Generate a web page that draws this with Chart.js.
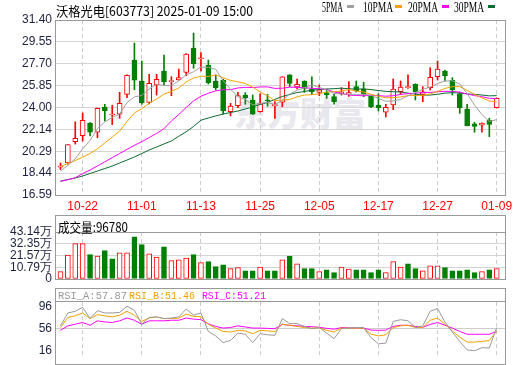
<!DOCTYPE html>
<html>
<head>
<meta charset="utf-8">
<title>沃格光电 603773</title>
<script src="https://cdn.jsdelivr.net/npm/chart.js@4.4.1/dist/chart.umd.min.js"></script>
<style>
  html, body { margin: 0; padding: 0; background: #fff; }
  #stage { position: relative; width: 520px; height: 365px; overflow: hidden; }
  #stage canvas { position: absolute; left: 0; top: 0; z-index: 1; }
  .frame { position: absolute; box-sizing: border-box; border: 1px solid #999; z-index: 2; }
  .sep { position: absolute; left: 0; right: 0; box-sizing: border-box; border-bottom: 1px solid #999; }
  .label { position: absolute; white-space: nowrap; line-height: 1; z-index: 3; transform-origin: 0 50%; }
  .swatch { position: absolute; z-index: 3; height: 3px; width: 7px; }
  #watermark {
    position: absolute; left: 234px; top: 88px; z-index: 0;
    font: 900 33px "Noto Sans CJK SC", sans-serif; color: #e8e8ee; white-space: nowrap;
  }
</style>
</head>
<body>
<div id="stage">
  <div id="watermark">东方财富</div>

  <canvas id="priceChart" width="520" height="365"></canvas>
  <canvas id="volChart" width="520" height="365"></canvas>
  <canvas id="rsiChart" width="520" height="365"></canvas>

  <div class="frame" style="left:55px;top:20px;width:451px;height:176px"></div>
  <div class="frame" style="left:55px;top:215px;width:451px;height:65px"><div class="sep" style="top:0;height:17px"></div></div>
  <div class="frame" style="left:55px;top:288px;width:451px;height:77px"><div class="sep" style="top:0;height:13px"></div></div>

  <div class="label" id="title" style="left:56px;top:1px;font:13px 'Noto Sans CJK SC';color:#000">沃格光电[603773] 2025-01-09 15:00</div>

  <div class="label" id="lg5" style="left:322px;top:0px;font:14px 'Liberation Serif';color:#000">5PMA</div>
  <div class="swatch" style="left:347px;top:5px;background:#a0a0a0"></div>
  <div class="label" id="lg10" style="left:363px;top:0px;font:14px 'Liberation Serif';color:#000">10PMA</div>
  <div class="swatch" style="left:395px;top:5px;background:#f5a400"></div>
  <div class="label" id="lg20" style="left:408px;top:0px;font:14px 'Liberation Serif';color:#000">20PMA</div>
  <div class="swatch" style="left:442px;top:5px;background:#ff00ff"></div>
  <div class="label" id="lg30" style="left:454px;top:0px;font:14px 'Liberation Serif';color:#000">30PMA</div>
  <div class="swatch" style="left:488px;top:5px;background:#0b6b32"></div>

  <div class="label" id="volHead" style="left:58px;top:217px;font:13px 'Noto Sans CJK SC';color:#000"></div>

  <div class="label" id="rsiA" style="left:58px;top:290px;font:11px 'Liberation Mono';color:#999"></div>
  <div class="label" id="rsiB" style="left:129px;top:290px;font:11px 'Liberation Mono';color:#f0a000"></div>
  <div class="label" id="rsiC" style="left:202px;top:290px;font:11px 'Liberation Mono';color:#ff00ff"></div>
</div>

<script>
// trading days shown
const dates = [
  "10-17", "10-18", "10-21", "10-22", "10-23", "10-24", "10-25", "10-28", "10-29", "10-30",
  "10-31", "11-01", "11-04", "11-05", "11-06", "11-07", "11-08", "11-11", "11-12", "11-13",
  "11-14", "11-15", "11-18", "11-19", "11-20", "11-21", "11-22", "11-25", "11-26", "11-27",
  "11-28", "11-29", "12-02", "12-03", "12-04", "12-05", "12-06", "12-09", "12-10", "12-11",
  "12-12", "12-13", "12-16", "12-17", "12-18", "12-19", "12-20", "12-23", "12-24", "12-25",
  "12-26", "12-27", "12-30", "12-31", "01-02", "01-03", "01-06", "01-07", "01-08", "01-09",
];
const axisDates = ["10-22", "11-01", "11-13", "11-25", "12-05", "12-17", "12-27", "01-09"];

const opens = [
  18.95, 19.30, 21.10, 21.61, 22.68, 21.90, 24.04, 23.36, 23.42, 25.11,
  28.01, 26.24, 24.43, 25.90, 27.08, 26.18, 26.32, 26.97, 29.03, 28.12,
  27.59, 26.24, 26.32, 23.64, 24.15, 25.05, 24.60, 23.64, 24.65, 24.15,
  24.44, 26.75, 25.73, 26.24, 25.56, 25.28, 25.25, 24.91, 25.16, 25.13,
  25.76, 25.56, 24.97, 24.21, 23.59, 24.21, 25.33, 25.68, 25.96, 25.11,
  25.67, 26.60, 27.08, 26.30, 25.16, 23.87, 22.62, 22.51, 22.91, 23.98,
];
const highs = [
  19.30, 20.86, 22.79, 23.53, 22.72, 23.95, 24.27, 24.18, 25.28, 26.75,
  29.45, 27.93, 26.80, 26.80, 28.44, 26.60, 27.25, 28.55, 30.30, 28.65,
  28.01, 26.75, 26.40, 24.35, 25.28, 25.25, 25.05, 25.16, 25.10, 24.50,
  26.60, 26.78, 26.41, 26.26, 26.58, 25.90, 25.56, 25.11, 25.67, 26.18,
  26.24, 26.13, 25.05, 25.16, 24.27, 26.41, 26.24, 26.75, 26.00, 25.76,
  27.36, 27.93, 27.17, 26.52, 25.30, 24.27, 22.74, 22.70, 23.08, 24.80,
];
const lows = [
  18.75, 19.20, 20.90, 21.16, 21.60, 21.44, 22.85, 22.55, 23.08, 24.82,
  25.50, 24.27, 24.30, 25.05, 25.90, 25.00, 26.30, 26.69, 27.31, 27.10,
  25.98, 25.48, 23.42, 23.28, 23.98, 24.27, 23.40, 23.60, 24.10, 23.08,
  24.06, 25.76, 25.56, 25.28, 25.11, 25.00, 24.77, 24.27, 25.05, 24.94,
  25.30, 24.91, 23.98, 23.70, 23.19, 23.81, 25.10, 25.60, 24.63, 24.49,
  25.48, 26.32, 26.24, 25.05, 23.50, 22.43, 21.90, 21.90, 21.53, 23.95,
];
const closes = [
  18.95, 20.86, 21.39, 22.91, 21.90, 23.93, 23.70, 23.36, 24.35, 26.72,
  26.30, 24.38, 26.04, 26.38, 26.18, 26.20, 26.52, 28.52, 27.70, 28.16,
  26.09, 25.67, 23.70, 24.12, 25.00, 24.82, 23.42, 24.32, 24.55, 24.15,
  26.58, 26.04, 25.96, 25.62, 25.33, 25.48, 25.05, 24.49, 25.33, 25.25,
  25.39, 25.14, 24.06, 23.98, 24.01, 25.56, 25.73, 25.68, 25.33, 25.33,
  26.55, 27.25, 26.69, 25.48, 23.98, 22.45, 22.40, 22.66, 22.57, 24.77,
];

// volume in lots (手)
const volumes = [
  67000, 220000, 324000, 324000, 223000, 211000, 260000, 186000, 241000, 241000,
  388000, 315000, 232000, 202000, 296000, 168000, 177000, 193000, 223000, 150000,
  159000, 113000, 131000, 95000, 104000, 76000, 76000, 110000, 76000, 76000,
  177000, 208000, 140000, 95000, 95000, 67000, 85000, 58000, 110000, 92000,
  85000, 85000, 58000, 85000, 58000, 159000, 110000, 140000, 95000, 76000,
  122000, 122000, 104000, 76000, 76000, 85000, 58000, 67000, 85000, 96780,
];

const ma5 = [
  18.62, 19.10, 19.65, 20.50, 21.20, 22.20, 22.77, 23.16, 23.45, 24.41,
  24.89, 25.02, 25.56, 25.96, 25.86, 25.84, 26.26, 26.76, 27.02, 27.42,
  27.40, 27.23, 26.26, 25.55, 24.92, 24.66, 24.21, 24.34, 24.42, 24.25,
  24.60, 25.13, 25.46, 25.67, 25.91, 25.69, 25.49, 25.19, 25.14, 25.12,
  25.10, 25.12, 25.03, 24.76, 24.52, 24.55, 24.67, 24.99, 25.26, 25.53,
  25.72, 26.03, 26.23, 26.26, 25.99, 25.17, 24.20, 23.39, 22.81, 22.97,
];
const ma10 = [
  19.00, 19.25, 19.50, 19.80, 20.10, 20.50, 21.00, 21.50, 22.00, 22.81,
  23.54, 23.89, 24.36, 24.71, 25.13, 25.36, 25.64, 26.16, 26.49, 26.64,
  26.62, 26.75, 26.51, 26.29, 26.17, 26.03, 25.72, 25.30, 24.99, 24.58,
  24.63, 24.67, 24.90, 25.05, 25.08, 25.15, 25.31, 25.33, 25.40, 25.51,
  25.39, 25.30, 25.11, 24.95, 24.82, 24.83, 24.89, 25.01, 25.01, 25.02,
  25.14, 25.35, 25.61, 25.76, 25.76, 25.45, 25.11, 24.81, 24.54, 24.48,
];
const ma20 = [
  17.75, 17.88, 18.05, 18.40, 18.70, 19.05, 19.40, 19.75, 20.10, 20.45,
  20.80, 21.10, 21.45, 21.80, 22.20, 22.85, 23.40, 24.00, 24.55, 24.95,
  25.20, 25.40, 25.50, 25.50, 25.65, 25.70, 25.68, 25.73, 25.74, 25.61,
  25.63, 25.71, 25.70, 25.67, 25.62, 25.59, 25.51, 25.31, 25.19, 25.05,
  25.01, 24.99, 25.01, 25.00, 24.95, 24.99, 25.10, 25.17, 25.21, 25.27,
  25.27, 25.33, 25.36, 25.36, 25.29, 25.14, 25.00, 24.91, 24.77, 24.75,
];
const ma30 = [
  17.77, 17.90, 18.03, 18.20, 18.41, 18.62, 18.83, 19.04, 19.30, 19.55,
  19.81, 20.10, 20.40, 20.65, 20.91, 21.16, 21.56, 21.94, 22.39, 22.92,
  23.11, 23.28, 23.44, 23.57, 23.70, 23.87, 24.04, 24.25, 24.42, 24.68,
  24.93, 25.10, 25.26, 25.35, 25.46, 25.51, 25.56, 25.59, 25.63, 25.58,
  25.55, 25.57, 25.51, 25.43, 25.36, 25.33, 25.31, 25.21, 25.13, 25.04,
  25.05, 25.11, 25.21, 25.25, 25.22, 25.14, 25.11, 25.05, 24.98, 25.00,
];

const rsiA = [
  61, 84, 87, 94, 74, 88, 84, 84, 85, 96,
  89, 64, 76, 77, 74, 75, 77, 91, 80, 84,
  51, 43, 31, 35, 48, 46, 31, 47, 45, 44,
  74, 65, 65, 60, 56, 58, 48, 38, 56, 57,
  58, 58, 40, 29, 30, 69, 72, 70, 58, 61,
  87, 92, 68, 50, 33, 18, 16.5, 22, 21.5, 57.87,
];
const rsiB = [
  58, 76, 79, 84, 74, 81, 79, 77, 80, 87,
  80, 69, 75, 77, 74, 74, 75, 82, 78, 77,
  64, 57, 51, 50, 53, 52, 47, 53, 52, 51,
  64, 62, 60, 58, 57, 57.5, 53, 50, 57, 57,
  57, 57, 46, 43, 45, 58, 61, 62, 58, 58,
  71, 75, 64, 52, 41, 32, 32, 33, 35, 51.46,
];
const rsiC = [
  53, 61, 64, 67, 62, 70, 68, 67, 70, 75,
  71, 64, 70, 70, 70, 71, 71, 75, 73, 72,
  64.5, 60, 57, 58, 61, 59, 57, 57, 56.5, 56,
  63.6, 62, 61, 60, 59.5, 58.4, 56.5, 55, 58, 57.5,
  57, 57, 53.5, 53, 53.4, 60, 62, 62, 60, 58.4,
  63.6, 67, 62, 57, 51, 46, 46, 46, 46, 51.21,
];

const priceTicks = [16.59, 18.44, 20.29, 22.14, 24.00, 25.85, 27.70, 29.55, 31.40];
const volTicks = [0, 10.79, 21.57, 32.35, 43.14]; // 万手
const rsiTicks = [16, 56, 96];

const RED = "#ff0000";
const GREEN = "#008000";
const TICK_COLOR = "#1e2040";
const GRID_COLOR = "#d4d4d4";

const last = dates.length - 1;
const tickIdx = axisDates.map((d) => dates.indexOf(d));

const candleUp = (i) => closes[i] >= opens[i];
const volUp = (i) =>
  closes[i] > opens[i] || (closes[i] === opens[i] && (i === 0 || closes[i] >= closes[i - 1]));

const points = (arr) => arr.map((v, i) => ({ x: i, y: v }));

function xAxis(showLabels) {
  return {
    type: "linear",
    min: -0.74,
    max: 60.12,
    bounds: "data",
    offset: false,
    afterBuildTicks: (s) => {
      s.ticks = tickIdx.map((v) => ({ value: v }));
    },
    afterFit: (s) => {
      s.height = showLabels ? 20 : 0;
    },
    grid: { color: "#cccccc", drawTicks: false, offset: false },
    border: { display: false, dash: [4, 3] },
    ticks: {
      display: showLabels,
      autoSkip: false,
      maxRotation: 0,
      padding: 4,
      color: RED,
      font: { family: "Liberation Sans", size: 12 },
      callback: (v) => dates[v],
    },
  };
}

function yAxis(min, max, ticks, fmt, gridColor) {
  return {
    min,
    max,
    bounds: "data",
    afterBuildTicks: (s) => {
      s.ticks = ticks.map((v) => ({ value: v }));
    },
    afterFit: (s) => {
      s.width = 55;
    },
    grid: { color: gridColor, drawTicks: false },
    border: { display: false },
    ticks: {
      autoSkip: false,
      padding: 3,
      color: TICK_COLOR,
      font: { family: "Liberation Sans", size: 12 },
      callback: fmt,
    },
  };
}

const baseOptions = (padding) => ({
  responsive: false,
  animation: false,
  events: [],
  devicePixelRatio: 1,
  layout: { padding },
  plugins: { legend: { display: false }, tooltip: { enabled: false } },
});

const lineSet = (arr, color) => ({
  type: "line",
  data: points(arr),
  borderColor: color,
  borderWidth: 1,
  pointRadius: 0,
  tension: 0,
  fill: false,
  order: 0,
});

// price panel
new Chart(document.getElementById("priceChart"), {
  type: "bar",
  data: {
    datasets: [
      {
        data: closes.map((c, i) => ({ x: i, y: [opens[i], c] })),
        backgroundColor: (ctx) => (candleUp(ctx.dataIndex) ? "#ffffff" : GREEN),
        borderColor: (ctx) => (candleUp(ctx.dataIndex) ? RED : GREEN),
        borderWidth: 1,
        borderSkipped: false,
        barThickness: 5,
        minBarLength: 1,
        grouped: false,
        order: 1,
      },
      {
        data: highs.map((h, i) => ({ x: i, y: [lows[i], h] })),
        backgroundColor: (ctx) => (candleUp(ctx.dataIndex) ? RED : GREEN),
        barThickness: 1,
        grouped: false,
        order: 2,
      },
      lineSet(ma5, "#a0a0a0"),
      lineSet(ma10, "#f5a400"),
      lineSet(ma20, "#ff00ff"),
      lineSet(ma30, "#0b6b32"),
    ],
  },
  options: {
    ...baseOptions({ top: 20, right: 15, bottom: 150, left: 0 }),
    scales: {
      x: xAxis(true),
      y: yAxis(16.59, 31.4, priceTicks, (v) => v.toFixed(2), GRID_COLOR),
    },
  },
});

// volume panel
new Chart(document.getElementById("volChart"), {
  type: "bar",
  data: {
    datasets: [
      {
        data: volumes.map((v, i) => ({ x: i, y: v })),
        backgroundColor: (ctx) => (volUp(ctx.dataIndex) ? "#ffffff" : GREEN),
        borderColor: (ctx) => (volUp(ctx.dataIndex) ? RED : GREEN),
        borderWidth: 1,
        borderSkipped: false,
        barThickness: 5,
        grouped: false,
      },
    ],
  },
  options: {
    ...baseOptions({ top: 232, right: 15, bottom: 86, left: 0 }),
    scales: {
      x: xAxis(false),
      y: yAxis(
        0,
        431400,
        volTicks.map((v) => v * 10000),
        (v) => (v === 0 ? "0" : (v / 10000).toFixed(2) + "万"),
        GRID_COLOR
      ),
    },
  },
});

// RSI panel
new Chart(document.getElementById("rsiChart"), {
  type: "line",
  data: {
    datasets: [lineSet(rsiA, "#999999"), lineSet(rsiB, "#f0a000"), lineSet(rsiC, "#ff00ff")],
  },
  options: {
    ...baseOptions({ top: 302, right: 15, bottom: 1, left: 0 }),
    scales: {
      x: xAxis(false),
      y: yAxis(9.3, 103.6, rsiTicks, (v) => String(v), (ctx) =>
        ctx.tick && ctx.tick.value === 56 ? "#cccccc" : "rgba(0,0,0,0)"
      ),
    },
  },
});

// header texts
document.getElementById("volHead").textContent = "成交量:" + volumes[last];
document.getElementById("rsiA").textContent = "RSI_A:" + rsiA[last].toFixed(2);
document.getElementById("rsiB").textContent = "RSI_B:" + rsiB[last].toFixed(2);
document.getElementById("rsiC").textContent = "RSI_C:" + rsiC[last].toFixed(2);

function fitText(id, width) {
  const el = document.getElementById(id);
  const w = el.getBoundingClientRect().width;
  if (w > 0) el.style.transform = "scaleX(" + width / w + ")";
}
fitText("title", 197);
fitText("lg5", 21);
fitText("lg10", 30);
fitText("lg20", 30);
fitText("lg30", 30);
fitText("volHead", 70);
fitText("rsiA", 69);
fitText("rsiB", 66);
fitText("rsiC", 64);
</script>
</body>
</html>
